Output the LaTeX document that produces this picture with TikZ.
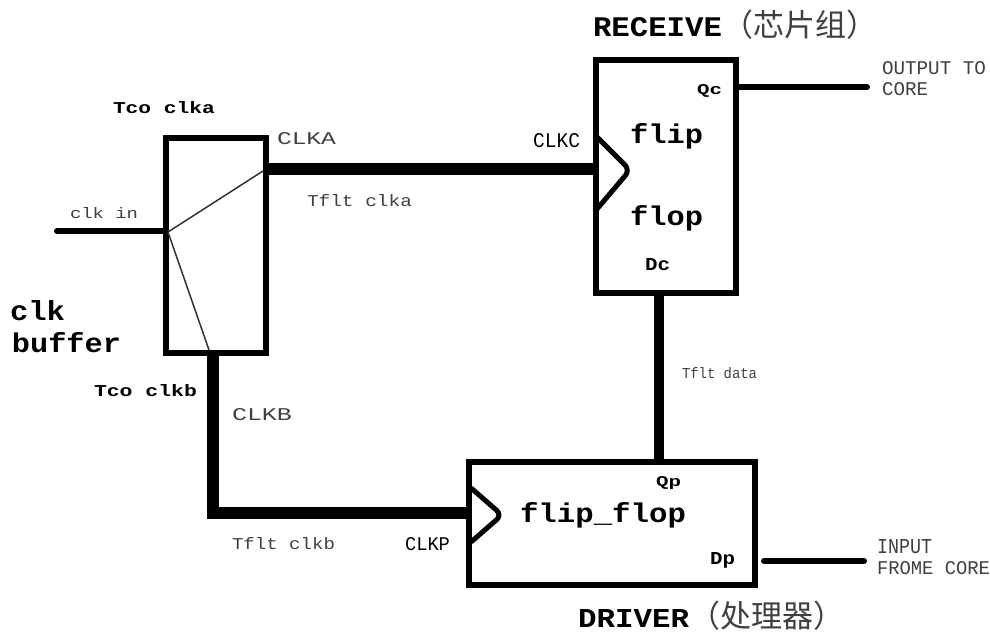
\documentclass[tikz,border=0pt]{standalone}
\usepackage{fontspec}
\setmainfont{Liberation Mono}
\newfontfamily\cjk{Noto Sans CJK SC}
\definecolor{thinink}{gray}{0.25}
\tikzset{
  blockbox/.style={draw=black,line width=6pt,fill=white,minimum width=#1,inner sep=0pt,rectangle},
  heavy/.style={line width=12pt,black},
  signal/.style={line width=6pt,black,line cap=round},
  databus/.style={line width=10pt,black},
  hair/.style={line width=1.5pt,black!80},
  chevron/.style={line width=5pt,black,rounded corners=7pt},
  lbl/.style={inner sep=0pt,outer sep=0pt,anchor=base west}
}
\newcommand{\lb}[7]{\node[lbl] (#1) at (#2,#3) {\resizebox{#4pt}{#5pt}{#6#7}};}
\newcommand{\bd}{\color{black}\bfseries}
\newcommand{\tn}{\color{thinink}}
\begin{document}
\begin{tikzpicture}[x=1pt,y=-1pt]
\useasboundingbox[fill=white] (0,0) rectangle (990,633);
% blocks
\node[blockbox=100pt,minimum height=215pt] (buf) at (216,245.5) {};
\node[blockbox=140pt,minimum height=233pt] (rcv) at (666,176.5) {};
\node[blockbox=286pt,minimum height=123pt] (drv) at (612,523.5) {};
% port coordinates
\coordinate (clkinend) at (57,231);
\coordinate (clkinbuf) at (166,231);
\coordinate (inbuf) at (168,232);
\coordinate (aout) at (263,171);
\coordinate (bout) at (209,350);
\coordinate (awire) at (266,169);
\coordinate (ain) at (596,169);
\coordinate (bwire) at (213,353);
\coordinate (bcorner) at (213,513);
\coordinate (bin) at (469,513);
\coordinate (dataout) at (659,293);
\coordinate (datain) at (659,462);
\coordinate (qcout) at (736,87);
\coordinate (qcend) at (867,87);
\coordinate (dpout) at (764,561);
\coordinate (dpend) at (864,561);
% wires
\draw[signal] (clkinend) -- (clkinbuf);
\draw[hair] (inbuf) -- (aout);
\draw[hair] (inbuf) -- (bout);
\draw[heavy] (awire) -- (ain);
\draw[heavy,line join=miter] (bwire) -- (bcorner) -- (bin);
\draw[databus] (dataout) -- (datain);
\draw[signal] (qcout) -- (qcend);
\draw[signal] (dpout) -- (dpend);
% clock chevrons
\coordinate (c1a) at (597,137);
\coordinate (c1b) at (630,170);
\coordinate (c1c) at (597,209);
\coordinate (c2a) at (471,488);
\coordinate (c2b) at (502,515);
\coordinate (c2c) at (471,542);
\draw[chevron] (c1a) -- (c1b) -- (c1c);
\draw[chevron] (c2a) -- (c2b) -- (c2c);
% labels
\lb{tcoa}{113}{113}{102}{12}{\bd}{Tco clka}
\lb{clka}{277}{144}{59}{12}{\tn}{CLKA}
\lb{tflta}{307}{206}{105}{12}{\tn}{Tflt clka}
\lb{clkin}{70}{218}{68}{11}{\tn}{clk in}
\lb{bufa}{10}{320}{55}{20}{\bd}{clk}
\lb{bufb}{12}{352}{109}{20}{\bd}{buffer}
\lb{tcob}{94}{396}{103}{12}{\bd}{Tco clkb}
\lb{clkb}{232}{420}{60}{12}{\tn}{CLKB}
\lb{tfltd}{682}{378}{75}{11}{\tn}{Tflt data}
\lb{tfltb}{232}{549}{103}{12}{\tn}{Tflt clkb}
\lb{clkp}{405}{550}{45}{13}{\color{black}}{CLKP}
\lb{qp}{656}{486}{25}{10}{\bd}{Qp}
\lb{ff}{520}{522}{166}{20}{\bd}{flip\_flop}
\lb{dp}{710}{564}{25}{12}{\bd}{Dp}
\lb{inp}{877}{553}{55}{14}{\tn}{INPUT}
\lb{fcore}{877}{574}{113}{13}{\tn}{FROME CORE}
\lb{outp}{882}{74}{104}{13}{\tn}{OUTPUT TO}
\lb{core}{882}{95}{46}{13}{\tn}{CORE}
\lb{qc}{697}{94}{25}{10}{\bd}{Qc}
\lb{flip}{630}{143}{73}{20}{\bd}{flip}
\lb{flop}{630}{225}{73}{20}{\bd}{flop}
\lb{dc}{645}{270}{25}{12}{\bd}{Dc}
\lb{clkc}{533}{147}{47}{14}{\color{black}}{CLKC}
\node[lbl] (rtitle) at (593,36) {\resizebox{129pt}{19pt}{\bfseries RECEIVE}\cjk\fontsize{31}{31}\selectfont\color{thinink}（芯片组）};
\node[lbl] (dtitle) at (578,627) {\resizebox{111pt}{18pt}{\bfseries DRIVER}\cjk\fontsize{31}{31}\selectfont\color{thinink}（处理器）};
\end{tikzpicture}
\end{document}
